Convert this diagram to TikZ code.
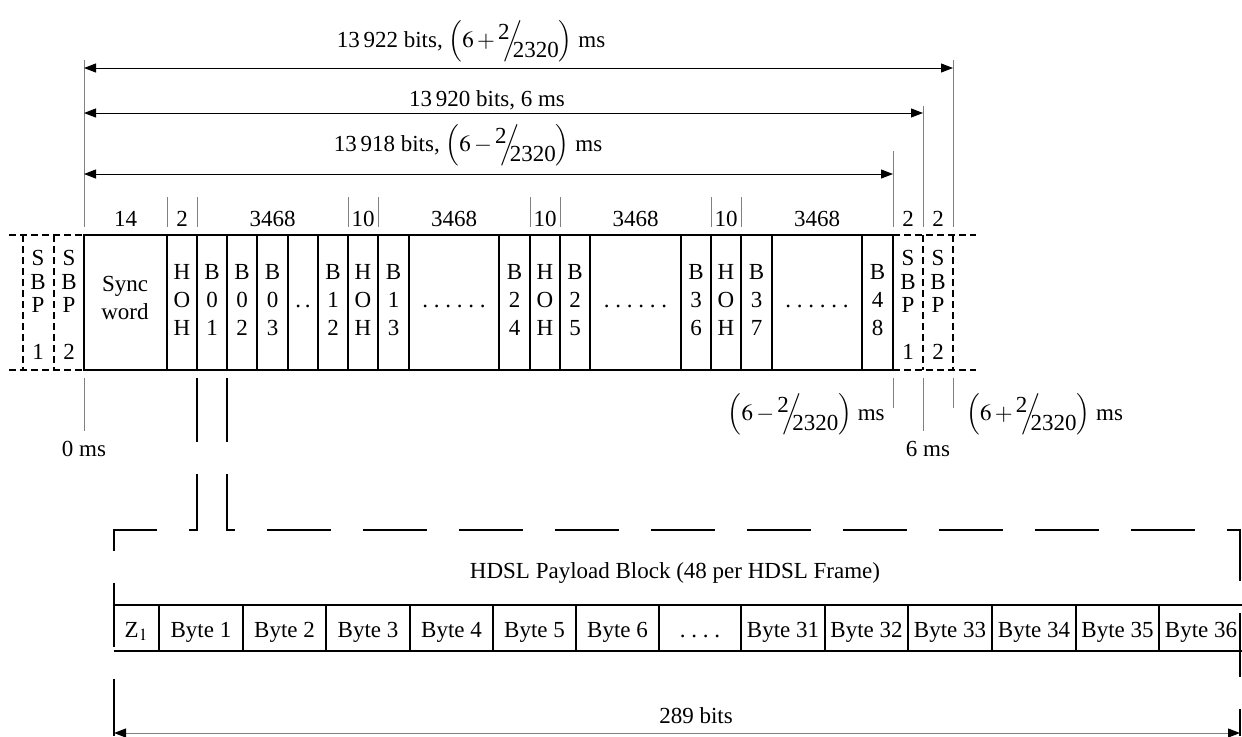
\documentclass[tikz,border=0pt]{standalone}
\usepackage{mathptmx}
\usepackage[no-math]{fontspec}
\setmainfont{Liberation Serif}
\usetikzlibrary{arrows.meta}
\newcommand{\msfrac}[1]{$\Big(6#1\raisebox{4pt}{2}\mkern-5mu\Big/\mkern-7mu\raisebox{-5pt}{2320}\Big)$ ms}
\tikzset{
  field/.style={
    align = center,
    inner sep = 0pt,
    font = \fontsize{11.5}{14}\selectfont
  },
  sbpfield/.style={
    align = center,
    inner sep = 0pt,
    font = \fontsize{11.5}{11.75}\selectfont
  },
  txt/.style={
    inner sep = 0pt,
    anchor = base,
    font = \fontsize{11.5}{14}\selectfont
  },
  frameline/.style={line width = 0.8pt},
  rowline/.style={line width = 1.1pt},
  sbpline/.style={line width = 0.8pt, dash pattern = on 3.5pt off 2pt},
  payload/.style={line width = 0.6pt, dash pattern = on 32pt off 16pt},
  extline/.style={gray, line width = 0.5pt},
  dimline/.style={
    line width = 0.5pt,
    {Triangle[length=6pt,width=4.5pt,color=black]}-{Triangle[length=6pt,width=4.5pt,color=black]}
  }
}

\begin{document}
\begin{tikzpicture}[x=0.5pt, y=-0.5pt]
            \useasboundingbox (0,0) rectangle (1242,736);
            % frame lengths
            \coordinate (a1l) at (84,68);  \coordinate (a1r) at (953,68);
            \coordinate (a2l) at (84,113); \coordinate (a2r) at (923,113);
            \coordinate (a3l) at (84,174); \coordinate (a3r) at (893,174);
            \draw[extline] (84,60) -- (84,227);
            \draw[extline] (953,60) -- (953,227);
            \draw[extline] (923,106) -- (923,227);
            \draw[extline] (893,151) -- (893,227);
            \draw[dimline] (a1l) -- (a1r);
            \draw[dimline] (a2l) -- (a2r);
            \draw[dimline] (a3l) -- (a3r);
            \node[txt] (len1) at (471,47) {13\,922 bits, \msfrac{+}};
            \node[txt] (len2) at (487,106) {13\,920 bits, 6 ms};
            \node[txt] (len3) at (468,151) {13\,918 bits, \msfrac{-}};
            % bit counts
            \foreach \x in {167,197,348,378,530,560,711,741}
              \draw[extline] (\x,197) -- (\x,227);
            \foreach \a/\b/\n in {84/167/14,167/197/2,197/348/3468,348/378/10,378/530/3468,
                530/560/10,560/711/3468,711/741/10,741/893/3468,893/923/2,923/953/2}
              \node[txt] (n\a) at ({(\a+\b)/2},226) {\n};
            % HDSL frame
            \draw[sbpline] (9,235) -- (84,235) (9,370) -- (84,370) (23,235) -- (23,370) (54,235) -- (54,370);
            \draw[sbpline] (893,235) -- (976,235) (893,370) -- (976,370) (923,235) -- (923,370) (953,235) -- (953,370);
            \draw[frameline] (84,235) rectangle (893,370);
            \foreach \x in {167,197,227,257,288,318,348,378,409,499,530,560,590,681,711,741,772,862}
              \draw[frameline] (\x,235) -- (\x,370);
            \node[field] (sync) at (125,298) {Sync\\word};
            \foreach \a/\b/\t [count=\i] in {167/197/{H\\O\\H},197/227/{B\\0\\1},227/257/{B\\0\\2},
                257/288/{B\\0\\3},318/348/{B\\1\\2},348/378/{H\\O\\H},378/409/{B\\1\\3},
                499/530/{B\\2\\4},530/560/{H\\O\\H},560/590/{B\\2\\5},681/711/{B\\3\\6},
                711/741/{H\\O\\H},741/772/{B\\3\\7},862/893/{B\\4\\8}}
              \node[field] (c\i) at ({(\a+\b)/2},300) {\t};
            \node[field] (gap0) at (303,306) {.\,.};
            \foreach \a/\b [count=\i] in {409/499,590/681,772/862}
              \node[field] (gap\i) at ({(\a+\b)/2},306) {.\ .\ .\ .\ .\ .};
            \node[sbpfield] (sbpa) at (38,305) {S\\B\\P\\~\\1};
            \node[sbpfield] (sbpb) at (69,305) {S\\B\\P\\~\\2};
            \node[sbpfield] (sbpc) at (908,305) {S\\B\\P\\~\\1};
            \node[sbpfield] (sbpd) at (938,305) {S\\B\\P\\~\\2};
            % time marks
            \draw[extline] (84,378) -- (84,431);
            \draw[extline] (893,378) -- (893,408);
            \draw[extline] (923,378) -- (923,431);
            \draw[extline] (953,378) -- (953,408);
            \node[txt] (t0) at (84,456) {0 ms};
            \node[txt] (t6) at (928,456) {6 ms};
            \node[txt, anchor=base east] (tm) at (885,420) {\msfrac{-}};
            \node[txt, anchor=base west] (tp) at (966,420) {\msfrac{+}};
            % payload block
            \draw[payload] (197,378) -- (197,530) -- (114,530) -- (114,736);
            \draw[payload] (227,378) -- (227,530) -- (1240,530) -- (1240,736);
            \node[txt] (hdsl) at (675,578) {HDSL Payload Block (48 per HDSL Frame)};
            \draw[rowline] (114,605) -- (1243,605) (114,651) -- (1243,651);
            \foreach \x in {159,243,326,410,493,576,659,741,825,908,992,1076,1159}
              \draw[frameline] (\x,605) -- (\x,651);
            \foreach \a/\b/\t [count=\i] in {114/159/Z$_1$,159/243/Byte 1,243/326/Byte 2,326/410/Byte 3,
                410/493/Byte 4,493/576/Byte 5,576/659/Byte 6,659/741/.\ .\ .\ .,741/825/Byte 31,
                825/908/Byte 32,908/992/Byte 33,992/1076/Byte 34,1076/1159/Byte 35,1159/1243/Byte 36}
              \node[txt] (b\i) at ({(\a+\b)/2},637) {\t};
            \coordinate (bl) at (114,733); \coordinate (br) at (1240,733);
            \draw[dimline, gray] (bl) -- (br);
            \node[txt] (bits) at (696,723) {289 bits};
\end{tikzpicture}
\end{document}
